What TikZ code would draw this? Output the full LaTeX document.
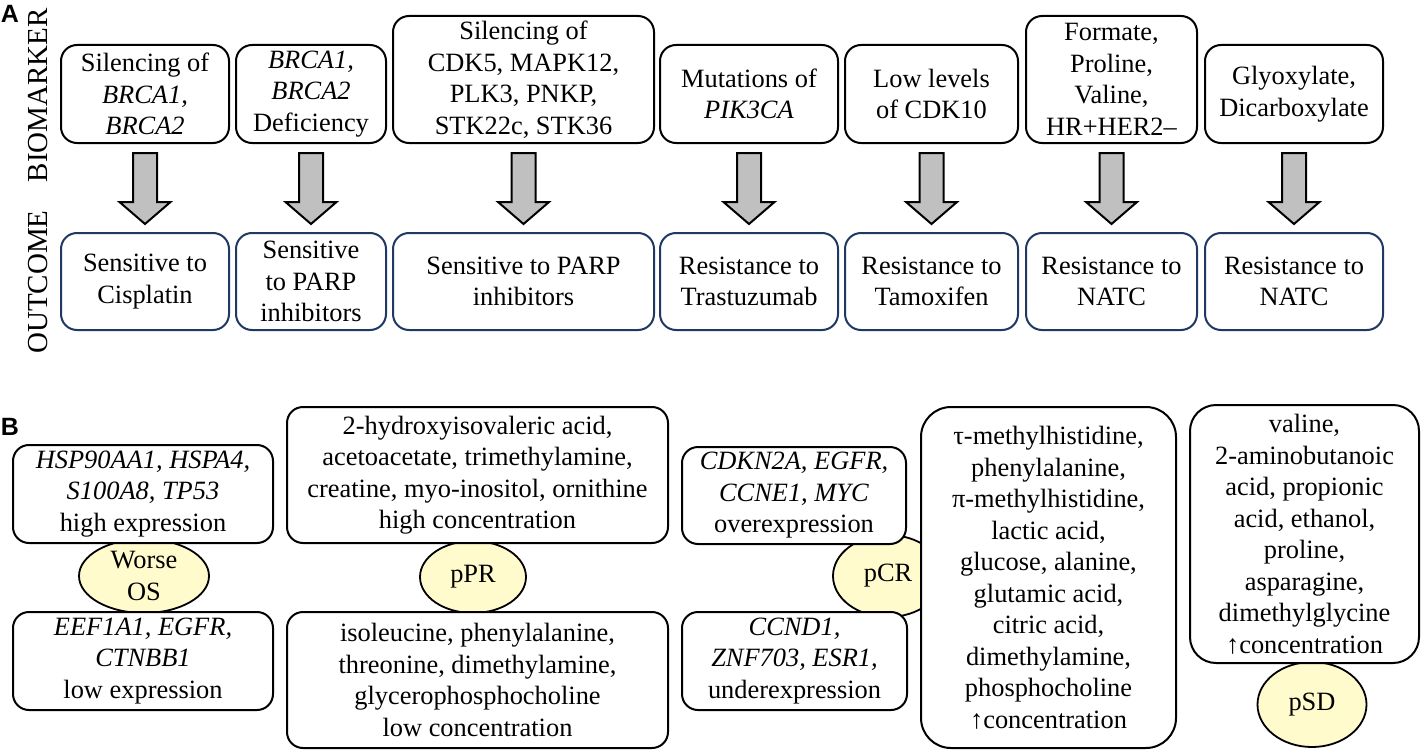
\documentclass[tikz,border=0pt]{standalone}
\usepackage{fontspec}
\setmainfont{Liberation Serif}
\newfontfamily\labelfont{Liberation Sans}
\usetikzlibrary{shapes.geometric,calc}
\definecolor{navy}{RGB}{31,56,100}
\definecolor{arrowgray}{RGB}{192,192,192}
\definecolor{paleyellow}{RGB}{255,251,204}
\begin{document}
\begin{tikzpicture}[x=1pt,y=-1pt,
  txt/.style={font=\fontsize{26.4}{31.5}\selectfont, align=center, inner sep=0pt},
  bmbox/.style={txt, rectangle, draw=black, line width=2pt, fill=white, rounded corners=16pt},
  outbox/.style={txt, rectangle, draw=navy, line width=2pt, fill=white, rounded corners=16pt},
  blockarrow/.style={draw=black, line width=2pt, fill=arrowgray, line join=miter},
  oval/.style={ellipse, draw=black, line width=1.8pt, fill=paleyellow, inner sep=0pt},
  panel/.style={font=\labelfont\bfseries\fontsize{25}{29}\selectfont, inner sep=0pt},
  side/.style={font=\fontsize{29}{34}\selectfont, rotate=90, inner sep=0pt}
]
\useasboundingbox (0,0) rectangle (1421,752);
\fill[white] (0,0) rectangle (1421,752);

% ---------- Panel A ----------
\node[panel] (labA) at (10,13.5) {A};
\node[side] (bio) at (38,95) {BIOMARKER};
\node[side] (outc) at (38,282) {OUTCOME};

\node[bmbox, minimum width=168pt, minimum height=98pt] (t1) at (145,94) {Silencing of\\\textit{BRCA1,}\\\textit{BRCA2}};
\node[bmbox, minimum width=150pt, minimum height=98pt] (t2) at (311,94) {\textit{BRCA1,}\\\textit{BRCA2}\\Deficiency};
\node[bmbox, minimum width=261pt, minimum height=127pt] (t3) at (523.5,79.5) {Silencing of\\CDK5, MAPK12,\\PLK3, PNKP,\\STK22c, STK36};
\node[bmbox, minimum width=178pt, minimum height=98pt] (t4) at (749,94) {Mutations of\\\textit{PIK3CA}};
\node[bmbox, minimum width=173pt, minimum height=98pt] (t5) at (931.5,94) {Low levels\\of CDK10};
\node[bmbox, minimum width=171pt, minimum height=127pt] (t6) at (1111.5,79.5) {Formate,\\Proline,\\Valine,\\HR+HER2–};
\node[bmbox, minimum width=178pt, minimum height=98pt] (t7) at (1294,94) {Glyoxylate,\\Dicarboxylate};

\node[outbox, minimum width=168pt, minimum height=97pt] (o1) at (145,281.5) {Sensitive to\\Cisplatin};
\node[outbox, minimum width=150pt, minimum height=97pt] (o2) at (311,281.5) {Sensitive\\to PARP\\inhibitors};
\node[outbox, minimum width=261pt, minimum height=97pt] (o3) at (523.5,281.5) {Sensitive to PARP\\inhibitors};
\node[outbox, minimum width=178pt, minimum height=97pt] (o4) at (749,281.5) {Resistance to\\Trastuzumab};
\node[outbox, minimum width=173pt, minimum height=97pt] (o5) at (931.5,281.5) {Resistance to\\Tamoxifen};
\node[outbox, minimum width=171pt, minimum height=97pt] (o6) at (1111.5,281.5) {Resistance to\\NATC};
\node[outbox, minimum width=178pt, minimum height=97pt] (o7) at (1294,281.5) {Resistance to\\NATC};

\foreach \i in {1,...,7} {
  \draw[blockarrow] ($(t\i.south)+(-12,9)$) -- ($(t\i.south)+(-12,58)$)
    -- ($(t\i.south)+(-25.5,58)$) -- ($(o\i.north)+(0,-8)$)
    -- ($(t\i.south)+(25.5,58)$) -- ($(t\i.south)+(12,58)$)
    -- ($(t\i.south)+(12,9)$) -- cycle;
}

% ---------- Panel B ----------
\node[panel] (labB) at (10,426.5) {B};

% ovals (behind the boxes)
\node[oval, minimum width=130pt, minimum height=74pt] (eos) at (144,576) {};
\node[txt] (eostxt) at (eos) {Worse\\OS};
\node[oval, minimum width=106pt, minimum height=72pt] (eppr) at (473,577) {};
\node[txt] (epprtxt) at (eppr) {pPR};
\node[oval, minimum width=110pt, minimum height=82pt] (ecr) at (888,576) {};
\node[txt] (ecrtxt) at (ecr) {pCR};
\node[oval, minimum width=109pt, minimum height=85pt] (esd) at (1312,704.5) {};
\node[txt] (esdtxt) at (esd) {pSD};

\node[bmbox, minimum width=260pt, minimum height=98pt] (b1) at (143,494) {\textit{HSP90AA1, HSPA4,}\\\textit{S100A8, TP53}\\high expression};
\node[bmbox, minimum width=260pt, minimum height=98pt] (b2) at (143,661) {\textit{EEF1A1, EGFR,}\\\textit{CTNBB1}\\low expression};

\node[bmbox, minimum width=381pt, minimum height=136pt] (p1) at (477.5,475) {2-hydroxyisovaleric acid,\\acetoacetate, trimethylamine,\\creatine, myo-inositol, ornithine\\high concentration};
\node[bmbox, minimum width=381pt, minimum height=136pt] (p2) at (477.5,680) {isoleucine, phenylalanine,\\threonine, dimethylamine,\\glycerophosphocholine\\low concentration};

\node[bmbox, minimum width=224pt, minimum height=97pt] (c1) at (794,495.5) {\textit{CDKN2A, EGFR,}\\\textit{CCNE1, MYC}\\overexpression};
\node[bmbox, minimum width=225pt, minimum height=98pt] (c2) at (794.5,661) {\textit{CCND1,}\\\textit{ZNF703, ESR1,}\\underexpression};

\node[bmbox, rounded corners=30pt, minimum width=255pt, minimum height=341pt] (cbig) at (1048.5,577.5) {τ-methylhistidine,\\phenylalanine,\\π-methylhistidine,\\lactic acid,\\glucose, alanine,\\glutamic acid,\\citric acid,\\dimethylamine,\\phosphocholine\\↑concentration};

\node[bmbox, rounded corners=26pt, minimum width=229pt, minimum height=258pt] (sdbox) at (1304.5,534) {valine,\\2-aminobutanoic\\acid, propionic\\acid, ethanol,\\proline,\\asparagine,\\dimethylglycine\\↑concentration};
\end{tikzpicture}
\end{document}
